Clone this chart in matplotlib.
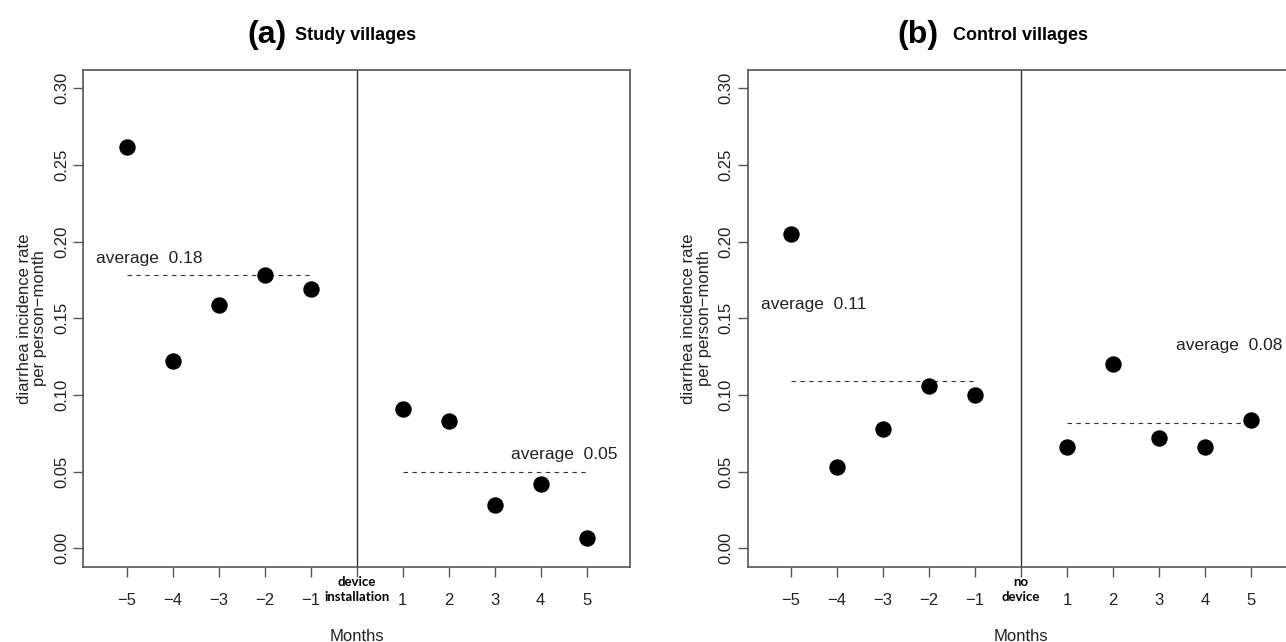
import matplotlib
matplotlib.use("Agg")
import matplotlib.pyplot as plt
import matplotlib.transforms as mtransforms
import numpy as np

plt.rcParams['font.family'] = ['Liberation Sans', 'DejaVu Sans']

months_before = [-5, -4, -3, -2, -1]
months_after = [1, 2, 3, 4, 5]

study_before = [0.262, 0.122, 0.159, 0.178, 0.169]
study_after = [0.091, 0.083, 0.028, 0.042, 0.007]
study_avg = [0.178, 0.050]
study_avg_labels = ['average  0.18', 'average  0.05']

control_before = [0.205, 0.053, 0.078, 0.106, 0.100]
control_after = [0.066, 0.120, 0.072, 0.066, 0.084]
control_avg = [0.109, 0.082]
control_avg_labels = ['average  0.11', 'average  0.08']

yticks = [0.00, 0.05, 0.10, 0.15, 0.20, 0.25, 0.30]
xticks = [-5, -4, -3, -2, -1, 0, 1, 2, 3, 4, 5]

fig = plt.figure(figsize=(12.86, 6.42), dpi=100)
ax_a = fig.add_axes([0.0648, 0.1173, 0.4251, 0.7737])
ax_b = fig.add_axes([0.5814, 0.1173, 0.4251, 0.7737])

spine_col = '#555555'
text_col = '#222222'


def draw_panel(ax, before, after, avgs, avg_labels, avg_text_y, zero_label):
    ax.set_xlim(-5.94, 5.94)
    ax.set_ylim(-0.012, 0.312)
    ax.axvline(0, color='#333333', lw=1.0, zorder=1)
    ax.plot(months_before, before, 'o', color='black', ms=10.8, zorder=3)
    ax.plot(months_after, after, 'o', color='black', ms=10.8, zorder=3)
    # average lines
    ax.plot([months_before[0], months_before[-1]], [avgs[0], avgs[0]],
            color='#333333', lw=0.8, ls=(0, (4, 4)), zorder=2)
    ax.plot([months_after[0], months_after[-1]], [avgs[1], avgs[1]],
            color='#333333', lw=0.8, ls=(0, (4, 4)), zorder=2)
    ax.text(-4.5, avg_text_y[0], avg_labels[0], ha='center', va='center',
            fontsize=12.5, color=text_col)
    ax.text(4.52, avg_text_y[1], avg_labels[1], ha='center', va='center',
            fontsize=12.5, color=text_col)

    for s in ax.spines.values():
        s.set_color(spine_col)
        s.set_linewidth(1.2)
    ax.set_xticks(xticks)
    ax.set_xticklabels(['' if t == 0 else f'{t}'.replace('-', '\u2212') for t in xticks])
    ax.set_yticks(yticks)
    ax.set_yticklabels([f'{t:.2f}' for t in yticks], rotation=90, va='center')
    ax.tick_params(axis='both', direction='out', length=7, width=1.0,
                   color=spine_col, labelcolor=text_col, labelsize=12)
    ax.tick_params(axis='x', pad=12)
    ax.tick_params(axis='y', pad=3)

    trans = mtransforms.blended_transform_factory(ax.transData, ax.transAxes)
    ax.text(0, -0.019, zero_label, transform=trans, ha='center', va='top',
            fontsize=9.5, fontweight='bold', color='black', linespacing=1.3,
            family=['Lato', 'DejaVu Sans'])

    ax.set_xlabel('Months', fontsize=12, color=text_col)
    ax.xaxis.set_label_coords(0.5, -0.125)
    ax.set_ylabel('diarrhea incidence rate\nper person\u2212month', fontsize=12,
                  color=text_col, labelpad=5, linespacing=1.05)


draw_panel(ax_a, study_before, study_after, study_avg, study_avg_labels,
           [0.189, 0.061], 'device\ninstallation')
draw_panel(ax_b, control_before, control_after, control_avg, control_avg_labels,
           [0.159, 0.132], 'no\ndevice')

# panel titles
title_font = ['Liberation Sans Narrow', 'Liberation Sans']
fig.text(267 / 1286, 1 - 35 / 642, '(a)', fontsize=23, fontweight='bold',
         ha='center', va='center', family=title_font)
fig.text(295 / 1286, 1 - 35 / 642, 'Study villages', fontsize=13, fontweight='bold',
         ha='left', va='center', family=title_font)
fig.text(918 / 1286, 1 - 35 / 642, '(b)', fontsize=23, fontweight='bold',
         ha='center', va='center', family=title_font)
fig.text(953 / 1286, 1 - 35 / 642, 'Control villages', fontsize=13, fontweight='bold',
         ha='left', va='center', family=title_font)

fig.savefig('out.png', dpi=100)
